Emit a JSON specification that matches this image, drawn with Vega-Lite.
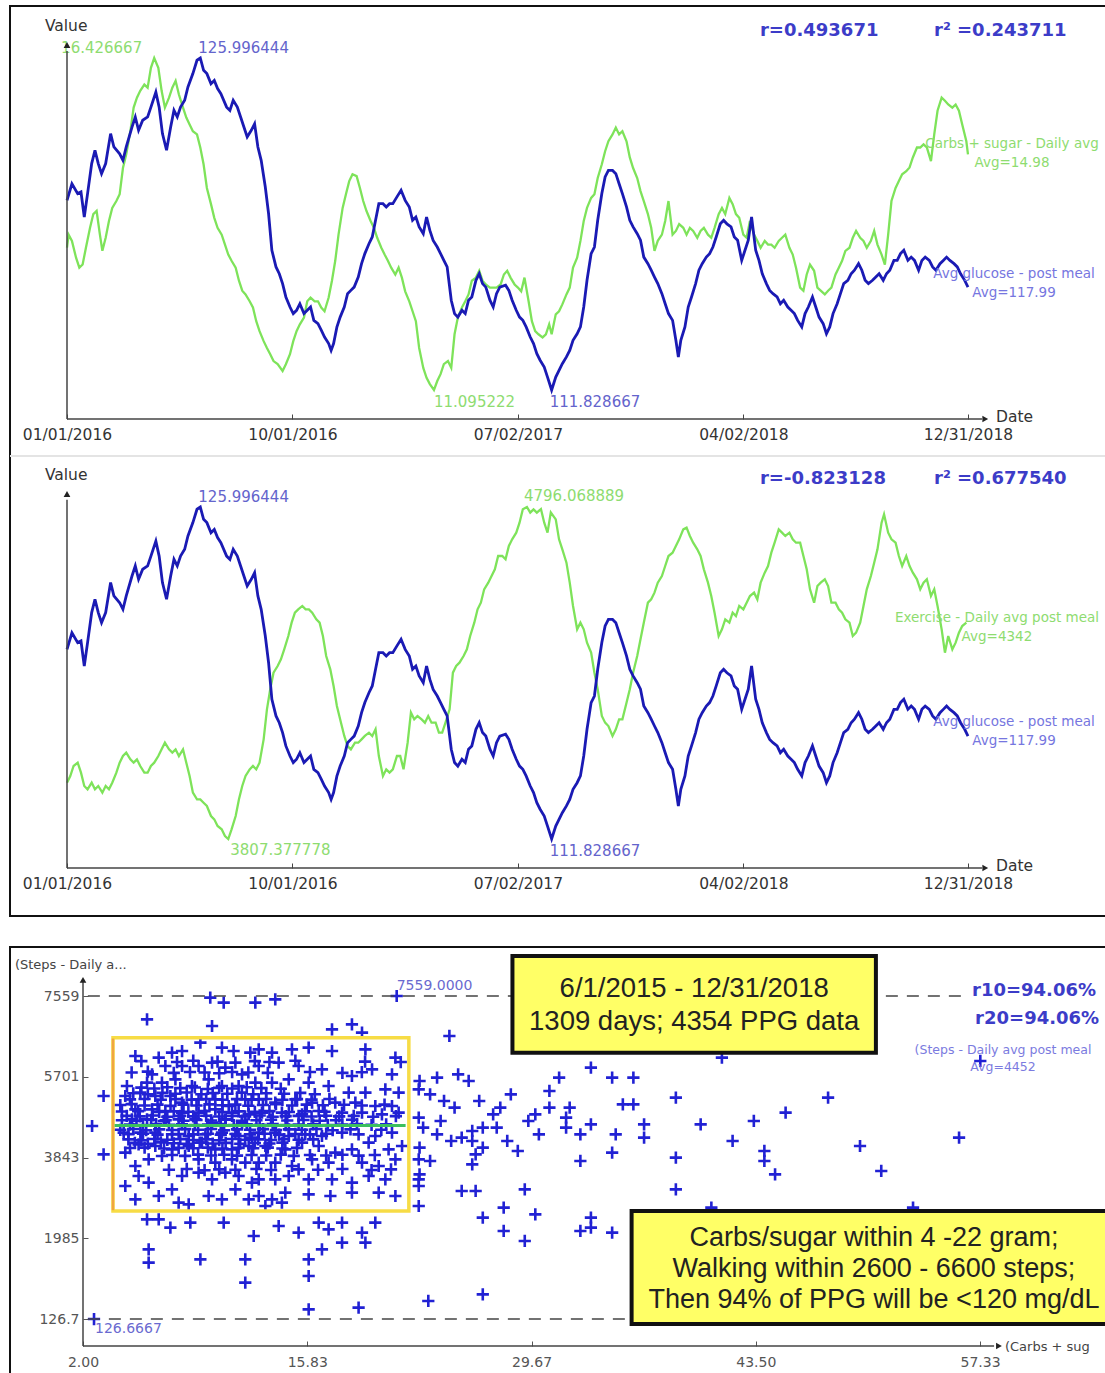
{
  "$schema": "https://vega.github.io/schema/vega-lite/v6.json",
  "padding": {"left": 8, "top": 5, "right": 0, "bottom": 0},
  "background": "white",
  "bounds": "flush",
  "spacing": 31,
  "config": {"view": {"stroke": null}, "axis": {"grid": false}, "font": "DejaVu Sans"},
  "datasets": {
    "glucose": [
      {"day":0,"v":119.92},{"day":6,"v":120.63},{"day":13,"v":120.21},{"day":17,"v":120.28},{"day":21,"v":119.21},{"day":25,"v":120.21},{"day":30,"v":121.49},{"day":34,"v":122.06},{"day":38,"v":121.49},{"day":42,"v":121.06},{"day":47,"v":121.49},{"day":53,"v":122.77},{"day":57,"v":122.2},{"day":64,"v":121.91},{"day":68,"v":121.63},{"day":72,"v":122.2},{"day":79,"v":123.05},{"day":83,"v":123.48},{"day":87,"v":122.91},{"day":92,"v":123.34},{"day":98,"v":123.48},{"day":102,"v":123.9},{"day":108,"v":124.54},{"day":112,"v":123.9},{"day":116,"v":122.77},{"day":121,"v":122.06},{"day":126,"v":123.05},{"day":130,"v":123.76},{"day":134,"v":123.48},{"day":138,"v":123.9},{"day":143,"v":124.19},{"day":147,"v":124.76},{"day":153,"v":125.33},{"day":158,"v":125.9},{"day":162,"v":125.996444},{"day":166,"v":125.47},{"day":170,"v":125.33},{"day":175,"v":124.9},{"day":179,"v":125.04},{"day":183,"v":124.69},{"day":187,"v":124.47},{"day":194,"v":123.9},{"day":198,"v":123.76},{"day":202,"v":124.19},{"day":207,"v":123.9},{"day":211,"v":123.48},{"day":215,"v":123.05},{"day":219,"v":122.63},{"day":224,"v":122.91},{"day":228,"v":123.19},{"day":232,"v":122.2},{"day":236,"v":121.63},{"day":241,"v":120.49},{"day":245,"v":119.35},{"day":249,"v":117.79},{"day":254,"v":117.08},{"day":258,"v":116.79},{"day":262,"v":116.37},{"day":266,"v":115.8},{"day":271,"v":115.37},{"day":275,"v":115.09},{"day":279,"v":115.23},{"day":283,"v":115.51},{"day":288,"v":115.09},{"day":292,"v":115.23},{"day":296,"v":115.37},{"day":300,"v":114.8},{"day":305,"v":114.66},{"day":309,"v":114.38},{"day":313,"v":114.09},{"day":318,"v":113.81},{"day":321,"v":113.52},{"day":324,"v":113.81},{"day":328,"v":114.51},{"day":332,"v":114.94},{"day":337,"v":115.37},{"day":341,"v":115.94},{"day":345,"v":116.08},{"day":349,"v":116.22},{"day":354,"v":116.65},{"day":358,"v":117.22},{"day":362,"v":117.65},{"day":367,"v":118.07},{"day":371,"v":118.36},{"day":375,"v":119.07},{"day":379,"v":119.78},{"day":384,"v":119.78},{"day":388,"v":119.64},{"day":392,"v":119.78},{"day":396,"v":119.78},{"day":401,"v":120.07},{"day":406,"v":120.35},{"day":411,"v":119.92},{"day":416,"v":119.64},{"day":420,"v":119.07},{"day":424,"v":119.21},{"day":428,"v":118.79},{"day":433,"v":118.5},{"day":437,"v":119.21},{"day":441,"v":118.64},{"day":445,"v":118.21},{"day":450,"v":117.93},{"day":454,"v":117.65},{"day":458,"v":117.36},{"day":462,"v":117.08},{"day":467,"v":115.66},{"day":471,"v":115.09},{"day":475,"v":114.94},{"day":480,"v":115.23},{"day":484,"v":115.09},{"day":488,"v":115.66},{"day":492,"v":115.8},{"day":497,"v":116.51},{"day":501,"v":116.79},{"day":505,"v":116.37},{"day":509,"v":116.22},{"day":514,"v":115.66},{"day":518,"v":115.37},{"day":522,"v":115.94},{"day":526,"v":116.22},{"day":533,"v":116.3},{"day":537,"v":116.08},{"day":541,"v":115.66},{"day":546,"v":115.23},{"day":550,"v":114.94},{"day":554,"v":114.8},{"day":558,"v":114.52},{"day":563,"v":114.09},{"day":567,"v":113.81},{"day":571,"v":113.38},{"day":575,"v":113.1},{"day":580,"v":112.81},{"day":584,"v":112.38},{"day":589,"v":111.828667},{"day":594,"v":112.38},{"day":598,"v":112.67},{"day":602,"v":112.95},{"day":607,"v":113.24},{"day":611,"v":113.52},{"day":615,"v":113.95},{"day":620,"v":114.23},{"day":624,"v":114.52},{"day":628,"v":115.37},{"day":632,"v":116.51},{"day":637,"v":117.65},{"day":641,"v":117.93},{"day":645,"v":119.07},{"day":650,"v":120.21},{"day":654,"v":120.92},{"day":658,"v":121.2},{"day":663,"v":121.2},{"day":667,"v":121.06},{"day":671,"v":120.63},{"day":675,"v":120.21},{"day":680,"v":119.64},{"day":684,"v":119.07},{"day":688,"v":118.79},{"day":693,"v":118.5},{"day":697,"v":118.22},{"day":701,"v":117.5},{"day":706,"v":117.22},{"day":710,"v":116.94},{"day":714,"v":116.65},{"day":718,"v":116.37},{"day":723,"v":115.94},{"day":727,"v":115.51},{"day":731,"v":115.09},{"day":736,"v":114.8},{"day":740,"v":113.95},{"day":743,"v":113.24},{"day":746,"v":113.95},{"day":751,"v":114.52},{"day":755,"v":115.37},{"day":759,"v":115.8},{"day":764,"v":116.37},{"day":768,"v":116.94},{"day":772,"v":117.22},{"day":777,"v":117.5},{"day":781,"v":117.65},{"day":785,"v":117.93},{"day":789,"v":118.36},{"day":794,"v":118.92},{"day":798,"v":119.07},{"day":802,"v":118.92},{"day":807,"v":118.79},{"day":811,"v":118.36},{"day":815,"v":118.22},{"day":820,"v":117.36},{"day":824,"v":117.79},{"day":828,"v":118.22},{"day":832,"v":119.21},{"day":837,"v":117.79},{"day":841,"v":117.36},{"day":845,"v":116.79},{"day":850,"v":116.37},{"day":854,"v":116.08},{"day":858,"v":115.94},{"day":863,"v":115.8},{"day":867,"v":115.51},{"day":871,"v":115.66},{"day":876,"v":115.37},{"day":880,"v":115.23},{"day":884,"v":115.09},{"day":888,"v":114.8},{"day":893,"v":114.52},{"day":897,"v":115.09},{"day":901,"v":115.37},{"day":906,"v":115.8},{"day":910,"v":115.37},{"day":914,"v":114.94},{"day":919,"v":114.66},{"day":923,"v":114.23},{"day":927,"v":114.52},{"day":931,"v":115.09},{"day":936,"v":115.51},{"day":940,"v":115.94},{"day":944,"v":116.37},{"day":949,"v":116.51},{"day":953,"v":116.79},{"day":957,"v":116.94},{"day":962,"v":117.22},{"day":966,"v":116.94},{"day":970,"v":116.51},{"day":974,"v":116.37},{"day":979,"v":116.51},{"day":983,"v":116.65},{"day":987,"v":116.79},{"day":992,"v":116.51},{"day":996,"v":116.79},{"day":1000,"v":116.94},{"day":1005,"v":117.36},{"day":1009,"v":117.36},{"day":1013,"v":117.65},{"day":1017,"v":117.79},{"day":1022,"v":117.36},{"day":1026,"v":117.5},{"day":1030,"v":117.36},{"day":1035,"v":116.94},{"day":1039,"v":117.36},{"day":1043,"v":117.5},{"day":1048,"v":117.36},{"day":1052,"v":117.08},{"day":1056,"v":116.94},{"day":1061,"v":117.22},{"day":1065,"v":117.36},{"day":1069,"v":117.5},{"day":1073,"v":117.36},{"day":1078,"v":117.22},{"day":1082,"v":117.08},{"day":1086,"v":116.79},{"day":1091,"v":116.51},{"day":1095,"v":116.22}
    ],
    "carbs": [
      {"day":0,"v":13.38},{"day":2,"v":13.59},{"day":6,"v":13.49},{"day":11,"v":13.22},{"day":15,"v":13.06},{"day":19,"v":13.11},{"day":23,"v":13.38},{"day":28,"v":13.7},{"day":32,"v":13.92},{"day":36,"v":13.97},{"day":40,"v":13.59},{"day":43,"v":13.33},{"day":47,"v":13.54},{"day":51,"v":13.81},{"day":55,"v":14.02},{"day":60,"v":14.13},{"day":64,"v":14.24},{"day":68,"v":14.66},{"day":72,"v":14.88},{"day":77,"v":15.25},{"day":81,"v":15.63},{"day":85,"v":15.79},{"day":89,"v":15.9},{"day":94,"v":16.0},{"day":98,"v":15.95},{"day":102,"v":16.27},{"day":106,"v":16.426667},{"day":111,"v":16.27},{"day":115,"v":15.9},{"day":119,"v":15.63},{"day":124,"v":15.79},{"day":128,"v":15.95},{"day":132,"v":16.06},{"day":136,"v":15.84},{"day":141,"v":15.63},{"day":145,"v":15.47},{"day":149,"v":15.36},{"day":153,"v":15.25},{"day":158,"v":15.2},{"day":162,"v":14.99},{"day":166,"v":14.72},{"day":170,"v":14.34},{"day":175,"v":14.08},{"day":179,"v":13.86},{"day":183,"v":13.7},{"day":188,"v":13.59},{"day":192,"v":13.43},{"day":196,"v":13.27},{"day":200,"v":13.17},{"day":205,"v":13.06},{"day":209,"v":12.85},{"day":213,"v":12.69},{"day":217,"v":12.63},{"day":222,"v":12.52},{"day":226,"v":12.42},{"day":230,"v":12.2},{"day":234,"v":12.04},{"day":239,"v":11.88},{"day":243,"v":11.77},{"day":247,"v":11.67},{"day":251,"v":11.56},{"day":256,"v":11.51},{"day":262,"v":11.4},{"day":266,"v":11.51},{"day":271,"v":11.67},{"day":275,"v":11.88},{"day":279,"v":12.04},{"day":283,"v":12.15},{"day":288,"v":12.26},{"day":292,"v":12.52},{"day":296,"v":12.58},{"day":301,"v":12.52},{"day":305,"v":12.52},{"day":309,"v":12.42},{"day":313,"v":12.36},{"day":318,"v":12.58},{"day":322,"v":12.85},{"day":326,"v":13.17},{"day":330,"v":13.59},{"day":335,"v":14.02},{"day":339,"v":14.24},{"day":343,"v":14.45},{"day":347,"v":14.56},{"day":352,"v":14.53},{"day":356,"v":14.34},{"day":360,"v":14.13},{"day":364,"v":13.97},{"day":369,"v":13.81},{"day":373,"v":13.7},{"day":377,"v":13.54},{"day":382,"v":13.38},{"day":386,"v":13.27},{"day":390,"v":13.17},{"day":394,"v":13.06},{"day":399,"v":12.95},{"day":403,"v":13.06},{"day":407,"v":12.9},{"day":411,"v":12.68},{"day":416,"v":12.52},{"day":420,"v":12.36},{"day":424,"v":12.2},{"day":428,"v":11.77},{"day":433,"v":11.45},{"day":437,"v":11.29},{"day":441,"v":11.19},{"day":446,"v":11.095222},{"day":450,"v":11.24},{"day":454,"v":11.35},{"day":458,"v":11.51},{"day":463,"v":11.56},{"day":467,"v":11.45},{"day":471,"v":11.99},{"day":475,"v":12.26},{"day":480,"v":12.42},{"day":484,"v":12.52},{"day":488,"v":12.63},{"day":492,"v":12.85},{"day":497,"v":12.9},{"day":501,"v":13.01},{"day":505,"v":12.85},{"day":509,"v":12.79},{"day":514,"v":12.74},{"day":518,"v":12.74},{"day":522,"v":12.74},{"day":527,"v":12.79},{"day":531,"v":12.95},{"day":535,"v":13.01},{"day":539,"v":12.9},{"day":544,"v":12.79},{"day":548,"v":12.74},{"day":552,"v":12.68},{"day":556,"v":12.9},{"day":561,"v":12.52},{"day":565,"v":12.2},{"day":569,"v":12.04},{"day":573,"v":11.99},{"day":578,"v":11.94},{"day":582,"v":11.99},{"day":586,"v":12.15},{"day":589,"v":11.99},{"day":594,"v":12.31},{"day":598,"v":12.36},{"day":602,"v":12.47},{"day":607,"v":12.63},{"day":611,"v":12.74},{"day":615,"v":13.06},{"day":620,"v":13.22},{"day":624,"v":13.49},{"day":628,"v":13.81},{"day":632,"v":14.02},{"day":637,"v":14.18},{"day":641,"v":14.24},{"day":645,"v":14.5},{"day":650,"v":14.72},{"day":654,"v":14.93},{"day":658,"v":15.09},{"day":663,"v":15.2},{"day":667,"v":15.31},{"day":671,"v":15.2},{"day":675,"v":15.25},{"day":680,"v":15.09},{"day":684,"v":14.83},{"day":688,"v":14.66},{"day":693,"v":14.5},{"day":697,"v":14.29},{"day":701,"v":14.13},{"day":706,"v":13.92},{"day":710,"v":13.7},{"day":714,"v":13.33},{"day":718,"v":13.49},{"day":723,"v":13.59},{"day":727,"v":13.81},{"day":731,"v":14.13},{"day":736,"v":13.59},{"day":740,"v":13.65},{"day":744,"v":13.76},{"day":749,"v":13.7},{"day":753,"v":13.59},{"day":757,"v":13.7},{"day":761,"v":13.65},{"day":766,"v":13.54},{"day":770,"v":13.65},{"day":774,"v":13.7},{"day":779,"v":13.59},{"day":783,"v":13.54},{"day":787,"v":13.7},{"day":792,"v":13.92},{"day":796,"v":14.02},{"day":800,"v":13.92},{"day":805,"v":14.18},{"day":809,"v":14.08},{"day":813,"v":13.92},{"day":817,"v":13.86},{"day":822,"v":13.59},{"day":826,"v":13.54},{"day":830,"v":13.81},{"day":835,"v":13.59},{"day":839,"v":13.49},{"day":843,"v":13.38},{"day":848,"v":13.49},{"day":852,"v":13.43},{"day":856,"v":13.43},{"day":860,"v":13.38},{"day":865,"v":13.49},{"day":869,"v":13.54},{"day":873,"v":13.59},{"day":878,"v":13.38},{"day":882,"v":13.27},{"day":886,"v":13.06},{"day":891,"v":12.74},{"day":895,"v":12.69},{"day":899,"v":12.95},{"day":903,"v":13.11},{"day":908,"v":13.01},{"day":912,"v":12.74},{"day":916,"v":12.69},{"day":921,"v":12.63},{"day":925,"v":12.69},{"day":929,"v":12.74},{"day":934,"v":12.95},{"day":938,"v":13.06},{"day":942,"v":13.17},{"day":946,"v":13.33},{"day":951,"v":13.38},{"day":955,"v":13.54},{"day":959,"v":13.65},{"day":964,"v":13.54},{"day":968,"v":13.49},{"day":972,"v":13.38},{"day":977,"v":13.49},{"day":981,"v":13.65},{"day":985,"v":13.43},{"day":990,"v":13.27},{"day":994,"v":13.11},{"day":998,"v":13.59},{"day":1002,"v":14.13},{"day":1007,"v":14.34},{"day":1011,"v":14.45},{"day":1015,"v":14.56},{"day":1020,"v":14.61},{"day":1024,"v":14.67},{"day":1028,"v":14.83},{"day":1033,"v":14.99},{"day":1037,"v":14.99},{"day":1041,"v":15.04},{"day":1045,"v":14.99},{"day":1050,"v":14.77},{"day":1054,"v":15.2},{"day":1058,"v":15.58},{"day":1063,"v":15.79},{"day":1067,"v":15.74},{"day":1071,"v":15.68},{"day":1076,"v":15.63},{"day":1080,"v":15.68},{"day":1084,"v":15.58},{"day":1088,"v":15.36},{"day":1093,"v":15.09},{"day":1095,"v":14.88}
    ],
    "exercise": [
      {"day":0,"v":3975.1},{"day":4,"v":3995.0},{"day":8,"v":4024.8},{"day":13,"v":4034.7},{"day":17,"v":4004.9},{"day":21,"v":3965.2},{"day":25,"v":3955.3},{"day":30,"v":3975.1},{"day":34,"v":3955.3},{"day":38,"v":3965.2},{"day":43,"v":3945.3},{"day":47,"v":3965.2},{"day":51,"v":3955.3},{"day":55,"v":3975.1},{"day":60,"v":4004.9},{"day":64,"v":4034.7},{"day":68,"v":4054.5},{"day":72,"v":4064.5},{"day":77,"v":4044.6},{"day":81,"v":4034.7},{"day":85,"v":4044.6},{"day":89,"v":4024.8},{"day":94,"v":4004.9},{"day":98,"v":4004.9},{"day":102,"v":4024.8},{"day":106,"v":4034.7},{"day":111,"v":4054.5},{"day":115,"v":4074.4},{"day":119,"v":4094.2},{"day":124,"v":4074.4},{"day":128,"v":4064.5},{"day":132,"v":4074.4},{"day":136,"v":4054.5},{"day":141,"v":4074.4},{"day":145,"v":4034.7},{"day":149,"v":3995.0},{"day":153,"v":3945.3},{"day":158,"v":3925.5},{"day":162,"v":3925.5},{"day":166,"v":3915.5},{"day":170,"v":3905.7},{"day":175,"v":3875.9},{"day":179,"v":3865.9},{"day":183,"v":3846.1},{"day":188,"v":3836.2},{"day":192,"v":3816.3},{"day":196,"v":3807.377778},{"day":200,"v":3836.2},{"day":205,"v":3875.9},{"day":209,"v":3925.5},{"day":213,"v":3965.2},{"day":217,"v":3995.0},{"day":222,"v":4014.8},{"day":226,"v":4024.8},{"day":230,"v":4014.8},{"day":234,"v":4034.7},{"day":239,"v":4104.2},{"day":243,"v":4193.6},{"day":247,"v":4253.1},{"day":251,"v":4302.7},{"day":256,"v":4322.6},{"day":260,"v":4342.4},{"day":264,"v":4372.2},{"day":269,"v":4411.9},{"day":273,"v":4451.6},{"day":277,"v":4481.4},{"day":281,"v":4491.3},{"day":286,"v":4501.3},{"day":290,"v":4491.3},{"day":294,"v":4491.3},{"day":298,"v":4481.4},{"day":303,"v":4461.5},{"day":307,"v":4451.6},{"day":311,"v":4411.9},{"day":315,"v":4352.3},{"day":320,"v":4312.6},{"day":324,"v":4263.0},{"day":328,"v":4203.4},{"day":333,"v":4153.8},{"day":337,"v":4114.2},{"day":341,"v":4084.3},{"day":345,"v":4074.4},{"day":350,"v":4094.2},{"day":354,"v":4094.2},{"day":358,"v":4104.2},{"day":362,"v":4114.2},{"day":367,"v":4124.0},{"day":371,"v":4114.2},{"day":375,"v":4134.0},{"day":379,"v":4054.5},{"day":384,"v":3995.0},{"day":388,"v":4014.8},{"day":392,"v":4004.9},{"day":396,"v":4014.8},{"day":401,"v":4054.5},{"day":405,"v":4054.5},{"day":409,"v":4014.8},{"day":414,"v":4094.2},{"day":418,"v":4183.6},{"day":422,"v":4163.7},{"day":426,"v":4173.6},{"day":431,"v":4163.7},{"day":435,"v":4153.8},{"day":439,"v":4173.6},{"day":443,"v":4153.8},{"day":448,"v":4153.8},{"day":452,"v":4124.0},{"day":456,"v":4124.0},{"day":460,"v":4153.8},{"day":465,"v":4193.6},{"day":469,"v":4302.7},{"day":473,"v":4322.6},{"day":477,"v":4332.5},{"day":482,"v":4352.3},{"day":486,"v":4372.2},{"day":490,"v":4411.9},{"day":495,"v":4451.6},{"day":499,"v":4491.3},{"day":503,"v":4511.2},{"day":507,"v":4550.9},{"day":512,"v":4570.7},{"day":516,"v":4590.6},{"day":520,"v":4610.4},{"day":524,"v":4650.1},{"day":529,"v":4650.1},{"day":533,"v":4640.2},{"day":537,"v":4679.9},{"day":541,"v":4699.8},{"day":546,"v":4719.6},{"day":550,"v":4749.4},{"day":554,"v":4789.1},{"day":559,"v":4796.068889},{"day":563,"v":4779.2},{"day":567,"v":4789.1},{"day":571,"v":4779.2},{"day":576,"v":4790.0},{"day":580,"v":4749.4},{"day":584,"v":4719.6},{"day":588,"v":4780.0},{"day":594,"v":4759.3},{"day":598,"v":4699.8},{"day":602,"v":4670.0},{"day":607,"v":4630.3},{"day":611,"v":4570.7},{"day":615,"v":4501.3},{"day":620,"v":4431.8},{"day":624,"v":4451.6},{"day":628,"v":4431.8},{"day":632,"v":4392.0},{"day":637,"v":4362.3},{"day":641,"v":4302.7},{"day":645,"v":4253.1},{"day":650,"v":4173.6},{"day":654,"v":4153.8},{"day":658,"v":4143.8},{"day":663,"v":4114.2},{"day":667,"v":4134.0},{"day":671,"v":4163.7},{"day":675,"v":4163.7},{"day":680,"v":4213.3},{"day":684,"v":4253.1},{"day":688,"v":4302.7},{"day":693,"v":4352.3},{"day":697,"v":4402.0},{"day":701,"v":4451.6},{"day":706,"v":4511.2},{"day":710,"v":4521.1},{"day":714,"v":4541.0},{"day":718,"v":4570.7},{"day":723,"v":4590.6},{"day":727,"v":4620.4},{"day":731,"v":4650.1},{"day":736,"v":4660.1},{"day":740,"v":4679.9},{"day":744,"v":4699.8},{"day":749,"v":4729.5},{"day":753,"v":4734.5},{"day":757,"v":4709.7},{"day":761,"v":4689.8},{"day":766,"v":4670.0},{"day":770,"v":4650.1},{"day":774,"v":4610.4},{"day":779,"v":4570.7},{"day":783,"v":4531.0},{"day":787,"v":4481.4},{"day":792,"v":4411.9},{"day":796,"v":4431.8},{"day":800,"v":4461.5},{"day":805,"v":4451.6},{"day":809,"v":4481.4},{"day":813,"v":4471.4},{"day":817,"v":4501.3},{"day":822,"v":4491.3},{"day":826,"v":4511.2},{"day":830,"v":4531.0},{"day":835,"v":4541.0},{"day":839,"v":4521.1},{"day":843,"v":4570.7},{"day":848,"v":4600.5},{"day":852,"v":4620.4},{"day":856,"v":4660.1},{"day":860,"v":4689.8},{"day":865,"v":4729.5},{"day":869,"v":4719.6},{"day":873,"v":4709.7},{"day":878,"v":4719.6},{"day":882,"v":4699.8},{"day":886,"v":4689.8},{"day":891,"v":4689.8},{"day":895,"v":4650.1},{"day":899,"v":4610.4},{"day":903,"v":4550.9},{"day":908,"v":4511.2},{"day":912,"v":4560.8},{"day":916,"v":4570.7},{"day":921,"v":4580.7},{"day":925,"v":4560.8},{"day":929,"v":4511.2},{"day":934,"v":4511.2},{"day":938,"v":4491.3},{"day":942,"v":4481.4},{"day":946,"v":4461.5},{"day":951,"v":4451.6},{"day":955,"v":4411.9},{"day":959,"v":4421.8},{"day":964,"v":4451.6},{"day":968,"v":4501.3},{"day":972,"v":4550.9},{"day":977,"v":4590.6},{"day":981,"v":4630.3},{"day":985,"v":4670.0},{"day":990,"v":4749.4},{"day":993,"v":4774.2},{"day":998,"v":4719.6},{"day":1002,"v":4699.8},{"day":1007,"v":4689.8},{"day":1011,"v":4650.1},{"day":1015,"v":4620.4},{"day":1020,"v":4650.1},{"day":1024,"v":4620.4},{"day":1028,"v":4600.5},{"day":1033,"v":4580.7},{"day":1037,"v":4550.9},{"day":1041,"v":4570.7},{"day":1045,"v":4580.7},{"day":1050,"v":4531.0},{"day":1054,"v":4550.9},{"day":1058,"v":4501.3},{"day":1063,"v":4431.8},{"day":1067,"v":4362.3},{"day":1071,"v":4411.9},{"day":1076,"v":4372.2},{"day":1080,"v":4392.0},{"day":1084,"v":4421.8},{"day":1088,"v":4441.6},{"day":1093,"v":4451.6}
    ],
    "scatter": [
      {"c":9.85,"s":7520.7},{"c":10.68,"s":7405.6},{"c":5.95,"s":7022.1},{"c":9.96,"s":6868.7},{"c":9.24,"s":6485.2},{"c":5.23,"s":6178.4},{"c":6.67,"s":6140},{"c":7.49,"s":6255.1},{"c":8.11,"s":6293.4},{"c":10.57,"s":6370.1},{"c":11.29,"s":6293.4},{"c":11.4,"s":6025},{"c":12.32,"s":6255.1},{"c":6.26,"s":5756.5},{"c":7.08,"s":5948.3},{"c":8.11,"s":5948.3},{"c":9.13,"s":5948.3},{"c":9.96,"s":6025},{"c":10.78,"s":5910},{"c":11.81,"s":5756.5},{"c":4.71,"s":5488.1},{"c":5.95,"s":5564.8},{"c":6.87,"s":5564.8},{"c":7.7,"s":5641.5},{"c":8.72,"s":5488.1},{"c":9.75,"s":5641.5},{"c":10.57,"s":5488.1},{"c":11.6,"s":5488.1},{"c":3.27,"s":5258},{"c":4.61,"s":5258},{"c":5.54,"s":5334.7},{"c":6.46,"s":5258},{"c":7.39,"s":5258},{"c":8.11,"s":5104.6},{"c":9.13,"s":5181.3},{"c":10.16,"s":5181.3},{"c":10.99,"s":5027.9},{"c":12.01,"s":5181.3},{"c":5.23,"s":4951.2},{"c":6.26,"s":4951.2},{"c":7.08,"s":4912.9},{"c":8.11,"s":4874.5},{"c":9.13,"s":4874.5},{"c":10.16,"s":4951.2},{"c":11.19,"s":4874.5},{"c":12.22,"s":4836.2},{"c":2.56,"s":4567.7},{"c":5.02,"s":4721.1},{"c":5.95,"s":4721.1},{"c":6.98,"s":4682.8},{"c":7.9,"s":4721.1},{"c":8.93,"s":4721.1},{"c":9.96,"s":4644.4},{"c":10.78,"s":4721.1},{"c":11.81,"s":4644.4},{"c":4.51,"s":4414.3},{"c":5.54,"s":4414.3},{"c":6.46,"s":4414.3},{"c":7.49,"s":4376},{"c":8.52,"s":4337.6},{"c":9.55,"s":4376},{"c":10.57,"s":4414.3},{"c":11.6,"s":4337.6},{"c":12.42,"s":4299.3},{"c":3.27,"s":3915.8},{"c":4.61,"s":3954.1},{"c":5.43,"s":4145.9},{"c":6.46,"s":4107.5},{"c":7.49,"s":4030.8},{"c":8.52,"s":4107.5},{"c":9.34,"s":4184.2},{"c":10.16,"s":4030.8},{"c":11.19,"s":4030.8},{"c":12.22,"s":4107.5},{"c":5.23,"s":3647.3},{"c":6.05,"s":3800.7},{"c":6.87,"s":3877.4},{"c":9.13,"s":3800.7},{"c":10.16,"s":3724},{"c":11.19,"s":3800.7},{"c":12.01,"s":3724},{"c":4.61,"s":3187.1},{"c":5.43,"s":3417.2},{"c":6.05,"s":3263.8},{"c":8.11,"s":3417.2},{"c":9.13,"s":3493.9},{"c":9.96,"s":3340.5},{"c":10.78,"s":3493.9},{"c":11.6,"s":3417.2},{"c":12.42,"s":3263.8},{"c":5.23,"s":2880.3},{"c":6.67,"s":2957},{"c":7.49,"s":3110.4},{"c":7.9,"s":2803.6},{"c":8.52,"s":2765.3},{"c":9.75,"s":2957},{"c":10.57,"s":2880.3},{"c":11.4,"s":3110.4},{"c":12.22,"s":2880.3},{"c":5.95,"s":2420.1},{"c":6.67,"s":2420.1},{"c":7.39,"s":2228.4},{"c":8.62,"s":2343.4},{"c":10.68,"s":2343.4},{"c":6.05,"s":1729.8},{"c":6.05,"s":1423},{"c":9.24,"s":1499.7},{"c":12.01,"s":1499.7},{"c":12.01,"s":962.8},{"c":12.53,"s":2036.6},{"c":2.68,"s":126.6667},
      {"c":12.63,"s":7405.6},{"c":13.86,"s":7482.3},{"c":21.35,"s":7559},{"c":17.36,"s":6792},{"c":18.59,"s":6907},{"c":19.21,"s":6715.3},{"c":12.84,"s":6331.8},{"c":13.66,"s":6255.1},{"c":14.89,"s":6331.8},{"c":15.92,"s":6370.1},{"c":17.36,"s":6293.4},{"c":19.42,"s":6331.8},{"c":21.27,"s":6140},{"c":12.84,"s":5948.3},{"c":14.07,"s":6025},{"c":15.3,"s":5948.3},{"c":16.74,"s":5871.6},{"c":18.59,"s":5718.2},{"c":19.83,"s":5871.6},{"c":21.06,"s":5756.5},{"c":22.71,"s":5411.4},{"c":12.63,"s":5564.8},{"c":13.66,"s":5564.8},{"c":14.69,"s":5641.5},{"c":15.92,"s":5564.8},{"c":17.15,"s":5488.1},{"c":18.39,"s":5334.7},{"c":19.42,"s":5334.7},{"c":20.65,"s":5411.4},{"c":21.47,"s":5334.7},{"c":12.84,"s":5181.3},{"c":13.86,"s":5104.6},{"c":15.1,"s":5181.3},{"c":16.13,"s":5104.6},{"c":17.56,"s":5104.6},{"c":18.8,"s":5104.6},{"c":20.03,"s":5027.9},{"c":21.06,"s":5027.9},{"c":22.71,"s":4759.5},{"c":13.04,"s":4874.5},{"c":14.27,"s":4874.5},{"c":15.51,"s":4836.2},{"c":16.54,"s":4912.9},{"c":17.98,"s":4874.5},{"c":19.21,"s":4874.5},{"c":20.44,"s":4836.2},{"c":21.47,"s":4874.5},{"c":12.84,"s":4414.3},{"c":13.86,"s":4414.3},{"c":14.69,"s":4337.6},{"c":15.71,"s":4376},{"c":16.74,"s":4337.6},{"c":17.98,"s":4414.3},{"c":19,"s":4376},{"c":20.03,"s":4337.6},{"c":21.06,"s":4414.3},{"c":13.25,"s":4107.5},{"c":14.48,"s":4030.8},{"c":15.51,"s":4184.2},{"c":16.54,"s":4107.5},{"c":17.56,"s":3954.1},{"c":18.59,"s":4030.8},{"c":19.62,"s":4184.2},{"c":20.85,"s":4030.8},{"c":21.68,"s":4107.5},{"c":22.71,"s":3800.7},{"c":12.84,"s":3724},{"c":13.86,"s":3724},{"c":14.89,"s":3647.3},{"c":16.13,"s":3800.7},{"c":17.15,"s":3724},{"c":19.21,"s":3724},{"c":20.24,"s":3647.3},{"c":21.27,"s":3800.7},{"c":12.84,"s":3340.5},{"c":13.86,"s":3340.5},{"c":14.69,"s":3417.2},{"c":15.92,"s":3340.5},{"c":17.36,"s":3340.5},{"c":18.59,"s":3263.8},{"c":19.62,"s":3417.2},{"c":20.65,"s":3340.5},{"c":22.71,"s":3340.5},{"c":12.84,"s":2957},{"c":13.66,"s":2880.3},{"c":14.48,"s":3033.7},{"c":15.92,"s":2995.4},{"c":17.26,"s":2957},{"c":18.59,"s":3033.7},{"c":20.24,"s":3033.7},{"c":21.27,"s":2957},{"c":22.71,"s":3187.1},{"c":22.71,"s":2726.9},{"c":13.25,"s":2726.9},{"c":14.27,"s":2803.6},{"c":14.07,"s":2266.7},{"c":15.3,"s":2113.3},{"c":16.54,"s":2343.4},{"c":17.15,"s":2190},{"c":17.98,"s":2343.4},{"c":16.74,"s":1729.8},{"c":17.98,"s":1883.2},{"c":19.21,"s":2113.3},{"c":20.03,"s":2343.4},{"c":19.42,"s":1883.2},{"c":15.92,"s":1499.7},{"c":15.92,"s":1116.2},{"c":15.92,"s":349.2},{"c":19,"s":387.6},
      {"c":24.6,"s":6638.7},{"c":22.76,"s":5603.2},{"c":23.84,"s":5679.9},{"c":25.14,"s":5756.6},{"c":25.79,"s":5603.2},{"c":23.41,"s":5296.4},{"c":24.27,"s":5143},{"c":24.92,"s":4989.6},{"c":24.06,"s":4682.8},{"c":22.98,"s":4529.4},{"c":23.84,"s":4376},{"c":24.71,"s":4222.6},{"c":22.76,"s":4069.2},{"c":23.41,"s":3762.4},{"c":22.76,"s":3455.6},{"c":25.36,"s":4299.3},{"c":26.01,"s":4452.7},{"c":26.66,"s":4529.4},{"c":26.44,"s":5143},{"c":27.3,"s":4836.2},{"c":27.74,"s":4989.6},{"c":28.39,"s":5296.4},{"c":27.52,"s":4529.4},{"c":26.01,"s":4222.6},{"c":26.66,"s":4069.2},{"c":28.17,"s":4222.6},{"c":28.82,"s":3992.5},{"c":29.47,"s":4682.8},{"c":29.9,"s":4836.2},{"c":30.12,"s":4376},{"c":30.77,"s":5373.1},{"c":30.77,"s":4989.6},{"c":26.22,"s":3915.8},{"c":26.01,"s":3685.7},{"c":25.36,"s":3072.1},{"c":26.22,"s":3072.1},{"c":26.66,"s":2458.5},{"c":27.95,"s":2688.6},{"c":29.25,"s":3110.4},{"c":29.9,"s":2535.2},{"c":27.95,"s":2151.7},{"c":29.25,"s":1921.6},{"c":26.66,"s":694.4},{"c":23.3,"s":541},
      {"c":31.37,"s":5679.9},{"c":33.33,"s":5910},{"c":34.64,"s":5679.9},{"c":35.95,"s":5679.9},{"c":35.3,"s":5066.3},{"c":35.95,"s":5066.3},{"c":32.02,"s":4989.6},{"c":31.8,"s":4759.5},{"c":31.8,"s":4529.4},{"c":32.68,"s":4376},{"c":33.33,"s":4606.1},{"c":34.86,"s":4376},{"c":36.61,"s":4606.1},{"c":36.61,"s":4299.3},{"c":38.57,"s":5219.7},{"c":38.57,"s":3839.1},{"c":40.1,"s":4606.1},{"c":42.07,"s":4222.6},{"c":43.38,"s":4682.8},{"c":44.03,"s":3992.5},{"c":44.03,"s":3762.4},{"c":44.69,"s":3455.6},{"c":45.34,"s":4874.5},{"c":47.96,"s":5219.7},{"c":49.93,"s":4107.5},{"c":51.24,"s":3532.3},{"c":56.04,"s":4299.3},{"c":41.41,"s":6140.1},{"c":57.35,"s":6063.4},{"c":32.68,"s":3762.4},{"c":34.64,"s":3954.1},{"c":38.57,"s":3110.4},{"c":32.68,"s":2151.7},{"c":33.33,"s":2458.5},{"c":33.33,"s":2228.4},{"c":34.64,"s":2113.3},{"c":40.76,"s":2688.6},{"c":53.2,"s":2688.6},
      {"c":5.6,"s":5450},{"c":6.4,"s":5430},{"c":7.2,"s":5460},{"c":8.0,"s":5440},{"c":8.9,"s":5455},{"c":9.7,"s":5420},{"c":10.4,"s":5445},{"c":11.2,"s":5430},{"c":12.1,"s":5460},{"c":13.0,"s":5440},{"c":14.2,"s":5425},
      {"c":5.1,"s":5320},{"c":6.0,"s":5300},{"c":6.9,"s":5330},{"c":7.7,"s":5310},{"c":8.4,"s":5340},{"c":9.3,"s":5300},{"c":10.0,"s":5325},{"c":10.9,"s":5310},{"c":11.8,"s":5335},{"c":12.5,"s":5300},{"c":13.3,"s":5320},{"c":14.4,"s":5310},{"c":15.4,"s":5330},{"c":16.3,"s":5300},
      {"c":4.9,"s":5180},{"c":5.8,"s":5190},{"c":6.8,"s":5170},{"c":7.7,"s":5185},{"c":8.7,"s":5175},{"c":9.6,"s":5190},{"c":10.6,"s":5170},{"c":11.5,"s":5185},{"c":12.4,"s":5175},{"c":13.3,"s":5190},{"c":14.3,"s":5170},{"c":15.2,"s":5185},{"c":16.1,"s":5175},{"c":17.2,"s":5190},
      {"c":4.3,"s":5050},{"c":5.0,"s":5070},{"c":5.8,"s":5040},{"c":6.6,"s":5060},{"c":7.4,"s":5030},{"c":8.2,"s":5055},{"c":9.0,"s":5040},{"c":9.8,"s":5065},{"c":10.6,"s":5045},{"c":11.4,"s":5060},{"c":12.2,"s":5035},{"c":13.1,"s":5050},{"c":13.9,"s":5070},{"c":14.9,"s":5040},{"c":15.8,"s":5060},{"c":16.8,"s":5045},{"c":18.1,"s":5055},{"c":19.2,"s":5040},{"c":20.6,"s":5060},
      {"c":4.4,"s":4900},{"c":5.4,"s":4910},{"c":6.7,"s":4890},{"c":7.6,"s":4905},{"c":8.5,"s":4895},{"c":9.5,"s":4910},{"c":10.6,"s":4890},{"c":11.6,"s":4905},{"c":12.6,"s":4895},{"c":13.5,"s":4910},{"c":14.7,"s":4890},{"c":15.7,"s":4905},{"c":16.9,"s":4895},
      {"c":4.7,"s":4800},{"c":5.5,"s":4790},{"c":6.3,"s":4810},{"c":7.2,"s":4780},{"c":8.0,"s":4800},{"c":8.8,"s":4790},{"c":9.6,"s":4805},{"c":10.4,"s":4785},{"c":11.2,"s":4800},{"c":12.0,"s":4790},{"c":12.9,"s":4810},{"c":13.7,"s":4780},{"c":14.5,"s":4795},{"c":15.3,"s":4800},{"c":16.1,"s":4785},{"c":17.0,"s":4805},{"c":17.8,"s":4790},{"c":18.7,"s":4800},{"c":19.9,"s":4780},{"c":21.3,"s":4795},
      {"c":4.4,"s":4700},{"c":5.3,"s":4690},{"c":6.2,"s":4710},{"c":7.1,"s":4700},{"c":8.2,"s":4690},{"c":9.0,"s":4705},{"c":9.9,"s":4695},{"c":10.8,"s":4710},{"c":11.8,"s":4690},{"c":12.7,"s":4700},{"c":13.6,"s":4710},{"c":14.6,"s":4695},{"c":15.6,"s":4705},{"c":16.6,"s":4690},{"c":17.6,"s":4700},{"c":18.6,"s":4710},
      {"c":4.9,"s":4600},{"c":5.7,"s":4590},{"c":6.5,"s":4610},{"c":7.3,"s":4595},{"c":8.1,"s":4605},{"c":8.9,"s":4590},{"c":9.7,"s":4600},{"c":10.5,"s":4615},{"c":11.3,"s":4590},{"c":12.1,"s":4605},{"c":12.9,"s":4595},{"c":13.7,"s":4610},{"c":14.5,"s":4590},{"c":15.3,"s":4600},{"c":16.2,"s":4605},{"c":17.1,"s":4590},{"c":18.0,"s":4600},{"c":18.9,"s":4610},{"c":19.8,"s":4595},{"c":20.7,"s":4605},
      {"c":4.3,"s":4480},{"c":5.1,"s":4500},{"c":5.9,"s":4470},{"c":6.7,"s":4490},{"c":7.5,"s":4475},{"c":8.3,"s":4495},{"c":9.1,"s":4480},{"c":9.9,"s":4500},{"c":10.7,"s":4470},{"c":11.5,"s":4490},{"c":12.3,"s":4480},{"c":13.1,"s":4495},{"c":13.9,"s":4475},{"c":14.7,"s":4490},{"c":15.5,"s":4480},{"c":16.4,"s":4500},{"c":17.4,"s":4470},{"c":18.5,"s":4490},{"c":20.4,"s":4480},
      {"c":4.8,"s":4380},{"c":5.7,"s":4390},{"c":6.6,"s":4370},{"c":7.9,"s":4385},{"c":8.8,"s":4375},{"c":9.7,"s":4390},{"c":10.5,"s":4370},{"c":11.4,"s":4385},{"c":12.3,"s":4375},{"c":13.2,"s":4390},{"c":14.1,"s":4370},{"c":15.1,"s":4385},{"c":16.0,"s":4375},{"c":17.0,"s":4390},
      {"c":4.8,"s":4260},{"c":5.6,"s":4240},{"c":6.4,"s":4270},{"c":7.2,"s":4250},{"c":8.0,"s":4265},{"c":8.8,"s":4245},{"c":9.6,"s":4260},{"c":10.4,"s":4240},{"c":11.2,"s":4270},{"c":12.0,"s":4250},{"c":12.8,"s":4260},{"c":13.6,"s":4245},{"c":14.4,"s":4265},{"c":15.3,"s":4250},{"c":16.2,"s":4260},
      {"c":5.2,"s":4180},{"c":6.0,"s":4160},{"c":6.8,"s":4190},{"c":7.6,"s":4170},{"c":8.4,"s":4160},{"c":9.2,"s":4185},{"c":10.0,"s":4165},{"c":10.8,"s":4180},{"c":11.7,"s":4160},{"c":12.6,"s":4175},{"c":13.5,"s":4165},{"c":14.3,"s":4185},
      {"c":4.9,"s":4060},{"c":5.8,"s":4070},{"c":7.0,"s":4050},{"c":7.9,"s":4065},{"c":8.8,"s":4055},{"c":9.7,"s":4070},{"c":10.6,"s":4050},{"c":11.6,"s":4065},{"c":12.5,"s":4055},{"c":13.4,"s":4070},{"c":14.3,"s":4050},{"c":15.2,"s":4065},
      {"c":7.5,"s":3900},{"c":8.3,"s":3880},{"c":9.1,"s":3910},{"c":9.9,"s":3890},{"c":10.7,"s":3905},{"c":11.5,"s":3885},{"c":12.4,"s":3900},{"c":13.3,"s":3890},{"c":14.2,"s":3910},{"c":15.0,"s":3880},{"c":16.0,"s":3900},{"c":17.0,"s":3890},{"c":18.0,"s":3905},{"c":19.0,"s":3885},{"c":20.0,"s":3900},
      {"c":7.3,"s":3560},{"c":8.4,"s":3580},{"c":9.5,"s":3550},{"c":10.4,"s":3570},{"c":11.4,"s":3560},{"c":12.7,"s":3580},{"c":13.6,"s":3555},{"c":15.3,"s":3570},{"c":16.5,"s":3560},{"c":18.0,"s":3580},{"c":19.8,"s":3555},{"c":21.0,"s":3570},
      {"c":5.0,"s":5800},{"c":6.0,"s":5820},{"c":7.6,"s":5790},{"c":8.6,"s":5810},{"c":9.5,"s":5800},{"c":10.4,"s":5780},{"c":11.2,"s":5810},{"c":12.2,"s":5800},{"c":13.4,"s":5790},{"c":16.0,"s":5810},{"c":18.0,"s":5790},{"c":19.2,"s":5805},
      {"c":5.6,"s":6060},{"c":7.8,"s":6040},{"c":8.8,"s":6070},{"c":10.3,"s":6050},{"c":12.6,"s":6060},{"c":13.5,"s":6040},{"c":15.1,"s":6070},{"c":19.4,"s":6050},{"c":21.6,"s":6040}
    ]
  },
  "vconcat": [
    {
      "width": 1100,
      "height": 910,
      "view": {"stroke": "#111111", "strokeWidth": 2},
      "layer": [
        {
          "encoding": {
            "x": {"field": "day", "type": "quantitative", "scale": {"domain": [-69.27, 1267.6], "nice": false, "zero": false},
              "axis": {"values": [0, 274, 548, 822, 1095], "labelExpr": "timeFormat(datetime(2016, 0, 1 + datum.value), '%m/%d/%Y')", "offset": -497, "domain": false, "grid": false, "ticks": true, "tickSize": -5, "tickColor": "#444444", "labelPadding": 13, "labelFontSize": 15.5, "labelFont": "DejaVu Sans", "labelColor": "#333333", "labelFlush": false, "labelOverlap": false, "title": null}}
          },
          "layer": [
            {
              "data": {"name": "carbs"},
              "encoding": {"y": {"field": "v", "type": "quantitative", "scale": {"domain": [2.648, 17.262], "nice": false, "zero": false}, "axis": null}},
              "layer": [
                {"mark": {"type": "line", "color": "#7ee35a", "strokeWidth": 2.3}},
                {"transform": [{"filter": "datum.v == 16.426667"}], "mark": {"type": "text", "align": "right", "baseline": "middle", "dx": -12, "dy": -10, "fontSize": 15, "color": "#8edc70"}, "encoding": {"text": {"field": "v", "format": ".6f"}}},
                {"transform": [{"filter": "datum.v == 11.095222"}], "mark": {"type": "text", "align": "left", "baseline": "middle", "dx": 0, "dy": 12, "fontSize": 15, "color": "#8edc70"}, "encoding": {"text": {"field": "v", "format": ".6f"}}},
                {"data": {"values": [{"day": 1148.5, "v": 15.158}]}, "mark": {"type": "text", "align": "center", "baseline": "top", "fontSize": 13.5, "lineHeight": 19, "color": "#8edc70", "text": ["Carbs + sugar - Daily avg", "Avg=14.98"]}}
              ]
            },
            {
              "data": {"name": "glucose"},
              "encoding": {"y": {"field": "v", "type": "quantitative", "scale": {"domain": [89.384, 128.215], "nice": false, "zero": false}, "axis": null}},
              "layer": [
                {"data": {"values": [{"day": -69.27, "day2": 1267.6, "v": 109.013}]}, "mark": {"type": "rule", "color": "#e4e4e4", "strokeWidth": 2}, "encoding": {"x2": {"field": "day2"}}},
                {"mark": {"type": "line", "color": "#1a1ab4", "strokeWidth": 2.8}},
                {"transform": [{"filter": "datum.v == 125.996444"}], "mark": {"type": "text", "align": "left", "baseline": "middle", "dx": -2, "dy": -10, "fontSize": 15, "color": "#6464cc"}, "encoding": {"text": {"field": "v", "format": ".6f"}}},
                {"transform": [{"filter": "datum.v == 111.828667"}], "mark": {"type": "text", "align": "left", "baseline": "middle", "dx": -2, "dy": 12, "fontSize": 15, "color": "#6464cc"}, "encoding": {"text": {"field": "v", "format": ".6f"}}},
                {"data": {"values": [{"day": 1150.9, "v": 117.078}]}, "mark": {"type": "text", "align": "center", "baseline": "top", "fontSize": 13.5, "lineHeight": 19, "color": "#7676e0", "text": ["Avg glucose - post meal", "Avg=117.99"]}},
                {"data": {"values": [{"day": 0, "v": 110.592, "v2": 126.3}]}, "mark": {"type": "rule", "color": "#444444", "strokeWidth": 1.5}, "encoding": {"y2": {"field": "v2"}}},
                {"data": {"values": [{"day": 0, "day2": 1112, "v": 110.592}]}, "mark": {"type": "rule", "color": "#444444", "strokeWidth": 1.5}, "encoding": {"x2": {"field": "day2"}}},
                {"data": {"values": [{"day": 0, "v": 126.55}]}, "mark": {"type": "point", "shape": "triangle-up", "size": 45, "filled": true, "opacity": 1, "color": "#222222"}},
                {"data": {"values": [{"day": 1116, "v": 110.592}]}, "mark": {"type": "point", "shape": "triangle-right", "size": 45, "filled": true, "opacity": 1, "color": "#222222"}},
                {"data": {"values": [{"day": -1, "v": 127.362, "label": "Value"}]}, "mark": {"type": "text", "align": "center", "baseline": "middle", "fontSize": 15.5, "color": "#333333"}, "encoding": {"text": {"field": "label"}}},
                {"data": {"values": [{"day": 1129, "v": 110.66, "label": "Date"}]}, "mark": {"type": "text", "align": "left", "baseline": "middle", "fontSize": 15.5, "color": "#333333"}, "encoding": {"text": {"field": "label"}}},
                {"data": {"values": [{"day": 842.2, "v": 127.148, "label": "r=0.493671"}, {"day": 1053.7, "v": 127.148, "label": "r² =0.243711"}]}, "mark": {"type": "text", "align": "left", "baseline": "middle", "fontSize": 18, "fontWeight": "bold", "color": "#3c3cc8"}, "encoding": {"text": {"field": "label"}}}
              ]
            }
          ],
          "resolve": {"scale": {"y": "independent"}}
        },
        {
          "encoding": {
            "x": {"field": "day", "type": "quantitative", "scale": {"domain": [-69.27, 1267.6], "nice": false, "zero": false},
              "axis": {"orient": "bottom", "values": [0, 274, 548, 822, 1095], "labelExpr": "timeFormat(datetime(2016, 0, 1 + datum.value), '%m/%d/%Y')", "offset": -48, "domain": false, "grid": false, "ticks": true, "tickSize": -5, "tickColor": "#444444", "labelPadding": 13, "labelFontSize": 15.5, "labelFont": "DejaVu Sans", "labelColor": "#333333", "labelFlush": false, "labelOverlap": false, "title": null}}
          },
          "layer": [
            {
              "data": {"name": "exercise"},
              "encoding": {"y": {"field": "v", "type": "quantitative", "scale": {"domain": [3578.07, 6288.04], "nice": false, "zero": false}, "axis": null}},
              "layer": [
                {"mark": {"type": "line", "color": "#7ee35a", "strokeWidth": 2.3}},
                {"transform": [{"filter": "datum.v == 4796.068889"}], "mark": {"type": "text", "align": "left", "baseline": "middle", "dx": -3, "dy": -11, "fontSize": 15, "color": "#8edc70"}, "encoding": {"text": {"field": "v", "format": ".6f"}}},
                {"transform": [{"filter": "datum.v == 3807.377778"}], "mark": {"type": "text", "align": "left", "baseline": "middle", "dx": 2, "dy": 11, "fontSize": 15, "color": "#8edc70"}, "encoding": {"text": {"field": "v", "format": ".6f"}}},
                {"data": {"values": [{"day": 1130.2, "v": 4486.4}]}, "mark": {"type": "text", "align": "center", "baseline": "top", "fontSize": 13.5, "lineHeight": 19, "color": "#8edc70", "text": ["Exercise - Daily avg post meal", "Avg=4342"]}}
              ]
            },
            {
              "data": {"name": "glucose"},
              "encoding": {"y": {"field": "v", "type": "quantitative", "scale": {"domain": [108.543, 147.374], "nice": false, "zero": false}, "axis": null}},
              "layer": [
                {"mark": {"type": "line", "color": "#1a1ab4", "strokeWidth": 2.8}},
                {"transform": [{"filter": "datum.v == 125.996444"}], "mark": {"type": "text", "align": "left", "baseline": "middle", "dx": -2, "dy": -10, "fontSize": 15, "color": "#6464cc"}, "encoding": {"text": {"field": "v", "format": ".6f"}}},
                {"transform": [{"filter": "datum.v == 111.828667"}], "mark": {"type": "text", "align": "left", "baseline": "middle", "dx": -2, "dy": 12, "fontSize": 15, "color": "#6464cc"}, "encoding": {"text": {"field": "v", "format": ".6f"}}},
                {"data": {"values": [{"day": 1150.9, "v": 117.12}]}, "mark": {"type": "text", "align": "center", "baseline": "top", "fontSize": 13.5, "lineHeight": 19, "color": "#7676e0", "text": ["Avg glucose - post meal", "Avg=117.99"]}},
                {"data": {"values": [{"day": 0, "v": 110.592, "v2": 126.3}]}, "mark": {"type": "rule", "color": "#444444", "strokeWidth": 1.5}, "encoding": {"y2": {"field": "v2"}}},
                {"data": {"values": [{"day": 0, "day2": 1112, "v": 110.592}]}, "mark": {"type": "rule", "color": "#444444", "strokeWidth": 1.5}, "encoding": {"x2": {"field": "day2"}}},
                {"data": {"values": [{"day": 0, "v": 126.55}]}, "mark": {"type": "point", "shape": "triangle-up", "size": 45, "filled": true, "opacity": 1, "color": "#222222"}},
                {"data": {"values": [{"day": 1116, "v": 110.592}]}, "mark": {"type": "point", "shape": "triangle-right", "size": 45, "filled": true, "opacity": 1, "color": "#222222"}},
                {"data": {"values": [{"day": -1, "v": 127.362, "label": "Value"}]}, "mark": {"type": "text", "align": "center", "baseline": "middle", "fontSize": 15.5, "color": "#333333"}, "encoding": {"text": {"field": "label"}}},
                {"data": {"values": [{"day": 1129, "v": 110.66, "label": "Date"}]}, "mark": {"type": "text", "align": "left", "baseline": "middle", "fontSize": 15.5, "color": "#333333"}, "encoding": {"text": {"field": "label"}}},
                {"data": {"values": [{"day": 842.2, "v": 127.191, "label": "r=-0.823128"}, {"day": 1053.7, "v": 127.191, "label": "r² =0.677540"}]}, "mark": {"type": "text", "align": "left", "baseline": "middle", "fontSize": 18, "fontWeight": "bold", "color": "#3c3cc8"}, "encoding": {"text": {"field": "label"}}}
              ]
            }
          ],
          "resolve": {"scale": {"y": "independent"}}
        }
      ],
      "resolve": {"scale": {"x": "independent", "y": "independent"}, "axis": {"x": "independent"}}
    },
    {
      "width": 1100,
      "height": 440,
      "view": {"stroke": "#111111", "strokeWidth": 2},
      "encoding": {
        "x": {"field": "c", "type": "quantitative", "scale": {"domain": [-2.503, 65.35], "nice": false, "zero": false},
          "axis": {"values": [2, 15.8333, 29.6667, 43.5, 57.3333], "format": ".2f", "offset": -41, "domain": false, "grid": false, "tickSize": -5, "tickColor": "#555555", "labelPadding": 14, "labelFontSize": 14, "labelColor": "#555555", "labelFlush": false, "labelOverlap": false, "title": null}},
        "y": {"field": "s", "type": "quantitative", "scale": {"domain": [-1437.9, 8686.5], "nice": false, "zero": false},
          "axis": {"values": [126.6667, 1984.75, 3842.83, 5700.92, 7559], "labelExpr": "datum.value < 1000 ? format(datum.value, '.1f') : format(datum.value, 'd')", "offset": -73, "domain": false, "grid": false, "tickSize": -5, "tickColor": "#555555", "labelPadding": 9, "labelFontSize": 14, "labelColor": "#555555", "labelFlush": false, "labelOverlap": false, "title": null}}
      },
      "layer": [
        {"data": {"name": "scatter"}, "mark": {"type": "point", "shape": "M-1,0H1M0,-1V1", "size": 150, "filled": false, "opacity": 1, "color": "#2121d4", "strokeWidth": 2.6}},
        {"data": {"values": [{"c": 2.3, "c2": 56.2, "s": 7559}, {"c": 2.3, "c2": 56.2, "s": 126.6667}]}, "mark": {"type": "rule", "color": "#444444", "strokeWidth": 1.5, "strokeDash": [12, 9]}, "encoding": {"x2": {"field": "c2"}}},
        {"data": {"values": [{"c": 3.85, "c2": 22.1, "s": 6600, "s2": 2610}]}, "mark": {"type": "rect", "fill": "transparent", "stroke": "#f7dc45", "strokeWidth": 3.5}, "encoding": {"x2": {"field": "c2"}, "y2": {"field": "s2"}}},
        {"data": {"values": [{"c": 3.85, "s": 6580, "s2": 2630}]}, "mark": {"type": "rule", "color": "#f0a640", "strokeWidth": 2.5}, "encoding": {"y2": {"field": "s2"}}},
        {"data": {"values": [{"c": 3.95, "c2": 21.9, "s": 4580}]}, "mark": {"type": "rule", "color": "#3cbf5e", "strokeWidth": 3}, "encoding": {"x2": {"field": "c2"}}},
        {"data": {"name": "scatter"}, "transform": [{"filter": "datum.s == 7559"}], "mark": {"type": "text", "align": "left", "baseline": "middle", "dx": 0, "dy": -10, "fontSize": 14, "color": "#6a6ad0"}, "encoding": {"text": {"field": "s", "format": ".4f"}}},
        {"data": {"name": "scatter"}, "transform": [{"filter": "datum.s == 126.6667"}], "mark": {"type": "text", "align": "left", "baseline": "middle", "dx": 1, "dy": 10, "fontSize": 14, "color": "#6a6ad0"}, "encoding": {"text": {"field": "s", "format": ".4f"}}},
        {"data": {"values": [{"c": 2, "s": -494.5, "s2": 7880}]}, "mark": {"type": "rule", "color": "#444444", "strokeWidth": 1.5}, "encoding": {"y2": {"field": "s2"}}},
        {"data": {"values": [{"c": 2, "c2": 58.2, "s": -494.5}]}, "mark": {"type": "rule", "color": "#444444", "strokeWidth": 1.5}, "encoding": {"x2": {"field": "c2"}}},
        {"data": {"values": [{"c": 2, "s": 7930}]}, "mark": {"type": "point", "shape": "triangle-up", "size": 45, "filled": true, "opacity": 1, "color": "#222222"}},
        {"data": {"values": [{"c": 58.5, "s": -494.5}]}, "mark": {"type": "point", "shape": "triangle-right", "size": 45, "filled": true, "opacity": 1, "color": "#222222"}},
        {"data": {"values": [{"c": -2.2, "s": 8272, "label": "(Steps - Daily a..."}, {"c": 58.87, "s": -517, "label": "(Carbs + sug"}]}, "mark": {"type": "text", "align": "left", "baseline": "middle", "fontSize": 13, "color": "#444444"}, "encoding": {"text": {"field": "label"}}},
        {"data": {"values": [{"c": 28.49, "c2": 50.91, "s": 8479, "s2": 6254}, {"c": 35.84, "c2": 65.3, "s": 2612, "s2": 12}]}, "mark": {"type": "rect", "fill": "#ffff66", "stroke": "#111111", "strokeWidth": 4}, "encoding": {"x2": {"field": "c2"}, "y2": {"field": "s2"}}},
        {"data": {"values": [{"c": 39.7, "s": 7720, "label": "6/1/2015 - 12/31/2018"}, {"c": 39.7, "s": 6961, "label": "1309 days; 4354 PPG data"}]}, "mark": {"type": "text", "align": "center", "baseline": "middle", "font": "Liberation Sans", "fontSize": 27.5, "color": "#222222"}, "encoding": {"text": {"field": "label"}}},
        {"data": {"values": [{"c": 50.79, "s": 1990, "label": "Carbs/sugar within 4 -22 gram;"}, {"c": 50.79, "s": 1277, "label": "Walking within 2600 - 6600 steps;"}, {"c": 50.79, "s": 564, "label": "Then 94% of PPG will be <120 mg/dL"}]}, "mark": {"type": "text", "align": "center", "baseline": "middle", "font": "Liberation Sans", "fontSize": 27, "color": "#222222"}, "encoding": {"text": {"field": "label"}}},
        {"data": {"values": [{"c": 56.84, "s": 7674, "label": "r10=94.06%"}, {"c": 57.03, "s": 7030, "label": "r20=94.06%"}]}, "mark": {"type": "text", "align": "left", "baseline": "middle", "fontSize": 18, "fontWeight": "bold", "color": "#3c3cc8"}, "encoding": {"text": {"field": "label"}}},
        {"data": {"values": [{"c": 58.75, "s": 6454}]}, "mark": {"type": "text", "align": "center", "baseline": "top", "fontSize": 12.5, "lineHeight": 17, "color": "#7b7be0", "text": ["(Steps - Daily avg post meal", "Avg=4452"]}}
      ]
    }
  ]
}
